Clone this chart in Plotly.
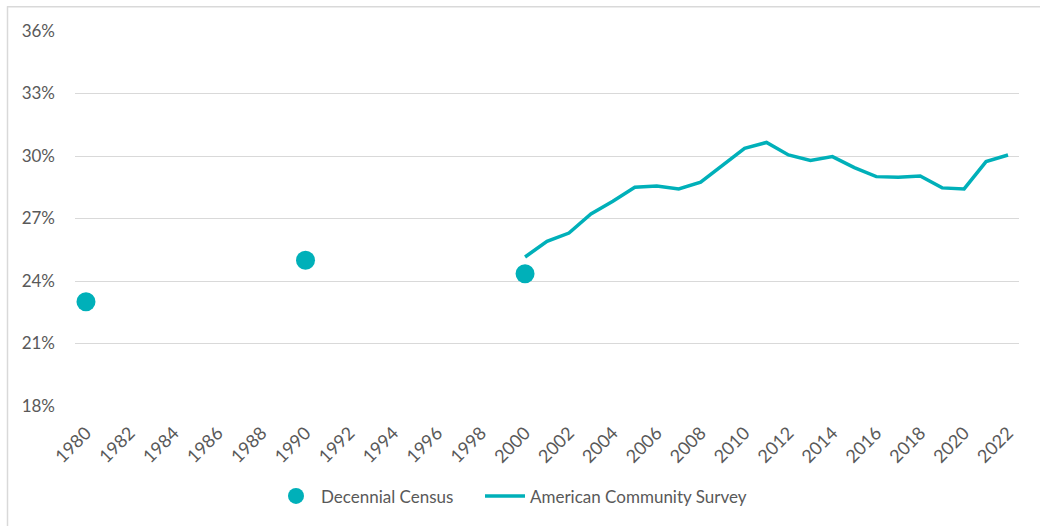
import plotly.graph_objects as go

census_years = [1980, 1990, 2000]
census_values = [23.0, 25.0, 24.35]

acs_years = list(range(2000, 2023))
acs_values = [25.15, 25.9, 26.3, 27.22, 27.83, 28.5, 28.56, 28.42, 28.74, 29.57,
              30.37, 30.65, 30.05, 29.79, 29.97, 29.44, 29.01, 28.98, 29.04, 28.47,
              28.42, 29.73, 30.05]

x_ticks = list(range(1980, 2023, 2))
y_ticks = [18, 21, 24, 27, 30, 33, 36]

COLOR = "#00B0B9"
FONT = "Lato"
TXT = "#595959"

fig = go.Figure()
fig.add_trace(go.Scatter(
    x=census_years, y=census_values, mode="markers", name="Decennial Census",
    marker=dict(color=COLOR, size=19, line=dict(width=0)), legend="legend",
))
fig.add_trace(go.Scatter(
    x=acs_years, y=acs_values, mode="lines", name="American Community Survey",
    line=dict(color=COLOR, width=3.5), legend="legend2",
))

leg_common = dict(orientation="h", xanchor="left", y=-0.241, yanchor="middle",
                  font=dict(family=FONT, size=17, color=TXT), itemwidth=40,
                  bgcolor="rgba(0,0,0,0)")

fig.update_layout(
    width=1040, height=526,
    margin=dict(l=75, r=21, t=31, b=118),
    paper_bgcolor="white", plot_bgcolor="white",
    font=dict(family=FONT, size=17, color=TXT),
    showlegend=True,
    legend=dict(x=(271 - 75) / 944, **leg_common),
    legend2=dict(x=(480 - 75) / 944, **leg_common),
    xaxis=dict(
        range=[1979.5, 2022.5], tickmode="array", tickvals=x_ticks,
        ticktext=[str(t) for t in x_ticks], tickangle=-45,
        showgrid=False, zeroline=False, showline=False, ticks="",
        ticklabelstandoff=12,
        tickfont=dict(family=FONT, size=18, color=TXT),
    ),
    yaxis=dict(
        range=[18, 36], tickmode="array", tickvals=y_ticks,
        ticktext=[f"{t}%" for t in y_ticks],
        showgrid=True, gridcolor="#D9D9D9", gridwidth=1, zeroline=False,
        showline=False, ticks="", ticklabelstandoff=19,
        tickfont=dict(family=FONT, size=17, color=TXT),
    ),
    shapes=[
        dict(type="line", xref="paper", yref="paper",
             x0=-68 / 944, x1=1.05, y0=1 + 24.5 / 377, y1=1 + 24.5 / 377,
             line=dict(color="#D9D9D9", width=1.5)),
        dict(type="line", xref="paper", yref="paper",
             x0=-67.5 / 944, x1=-67.5 / 944, y0=1 + 25 / 377, y1=-0.32,
             line=dict(color="#D9D9D9", width=1.5)),
    ],
)

fig.write_html("out.html", post_script="document.body.style.margin='0';",
               config={"displayModeBar": False})
